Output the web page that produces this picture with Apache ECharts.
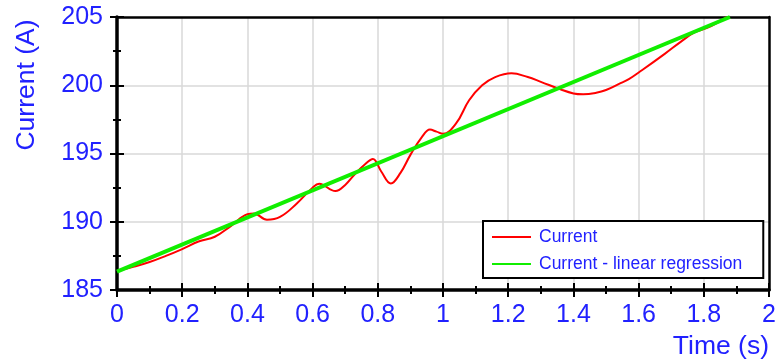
<!DOCTYPE html>
<html>
<head>
<meta charset="utf-8">
<script src="https://cdn.jsdelivr.net/npm/echarts@6/dist/echarts.min.js"></script>
<style>
  html, body { margin: 0; padding: 0; background: #fff; }
  #chart { width: 779px; height: 362px; }
</style>
</head>
<body>
<div id="chart"></div>
<script>
// Measured current over time (s, A)
const timeValues = [0.00, 0.05, 0.10, 0.15, 0.20, 0.25, 0.30, 0.35, 0.40, 0.42, 0.46, 0.50, 0.55, 0.60, 0.62, 0.67, 0.70, 0.73, 0.76, 0.785, 0.81, 0.84, 0.87, 0.90, 0.935, 0.96, 0.98, 1.00, 1.04, 1.08, 1.12, 1.16, 1.21, 1.26, 1.30, 1.36, 1.40, 1.43, 1.47, 1.50, 1.54, 1.57, 1.61, 1.68, 1.73, 1.77, 1.81, 1.85, 1.87];
const currentValues = [186.4, 186.7, 187.05, 187.5, 188.0, 188.55, 188.9, 189.7, 190.55, 190.6, 190.15, 190.35, 191.3, 192.5, 192.78, 192.25, 192.7, 193.5, 194.2, 194.6, 193.7, 192.8, 193.6, 194.9, 196.2, 196.75, 196.6, 196.45, 197.2, 198.9, 200.0, 200.6, 200.88, 200.6, 200.25, 199.7, 199.4, 199.34, 199.45, 199.65, 200.1, 200.45, 201.1, 202.3, 203.2, 203.85, 204.2, 204.7, 205.0];

// Linear regression end points
const regressionTimes = [0, 1.88];
const regressionValues = [186.35, 205.0];

const seriesNames = ['Current', 'Current - linear regression'];
const xAxisTitle = 'Time (s)';
const yAxisTitle = 'Current (A)';

const BLUE = '#2121ff';
const FONT = '"Liberation Sans", Arial, sans-serif';

const currentData = timeValues.map((t, i) => [t, currentValues[i]]);
const regressionData = regressionTimes.map((t, i) => [t, regressionValues[i]]);

const X_RANGE = { type: 'value', min: 0, max: 2, interval: 0.2 };
const Y_RANGE = { type: 'value', min: 185, max: 205, interval: 5 };

// Two axes per direction share the scale: one carries outward ticks and labels,
// the other inward ticks, so ticks cross the axis line.
function tickedAxis(range, position, inside, labelMargin, formatter) {
  return Object.assign({}, range, {
    position: position,
    axisLine: { show: !inside, onZero: false, lineStyle: { color: '#000', width: 3.5 } },
    axisTick: { show: true, inside: inside, length: 7, lineStyle: { color: '#000', width: 2 } },
    minorTick: { show: true, splitNumber: 2, length: 4, lineStyle: { color: '#000', width: 2 } },
    axisLabel: {
      show: !inside, margin: labelMargin, color: BLUE, fontSize: 25, fontFamily: FONT,
      formatter: formatter
    },
    splitLine: { show: !inside, showMinLine: false, showMaxLine: false, lineStyle: { color: '#d9d9d9', width: 1.5 } },
    minorSplitLine: { show: false }
  });
}
// Plain frame line on the opposite side
function frameAxis(range, position) {
  return Object.assign({}, range, {
    position: position,
    axisLine: { show: true, onZero: false, lineStyle: { color: '#000', width: 2.5 } },
    axisTick: { show: false }, minorTick: { show: false },
    axisLabel: { show: false }, splitLine: { show: false }
  });
}

const chart = echarts.init(document.getElementById('chart'), null, { renderer: 'canvas' });
chart.setOption({
  animation: false,
  backgroundColor: '#fff',
  grid: { left: 117, top: 17, right: 7, bottom: 72 },
  xAxis: [
    tickedAxis(X_RANGE, 'bottom', false, 13, v => String(Math.round(v * 10) / 10)),
    tickedAxis(X_RANGE, 'bottom', true, 13),
    frameAxis(X_RANGE, 'top')
  ],
  yAxis: [
    tickedAxis(Y_RANGE, 'left', false, 14),
    tickedAxis(Y_RANGE, 'left', true, 14),
    frameAxis(Y_RANGE, 'right')
  ],
  legend: {
    left: 483, top: 221, orient: 'vertical',
    padding: [7, 21, 5, 8],
    itemWidth: 39, itemHeight: 20, itemGap: 9,
    backgroundColor: '#fff', borderColor: '#000', borderWidth: 2, borderRadius: 0,
    itemStyle: { opacity: 0 },
    textStyle: { color: BLUE, fontSize: 17.5, fontFamily: FONT, padding: [0, 0, 0, 3] },
    data: seriesNames
  },
  graphic: [
    {
      type: 'text', x: 27, y: 85, rotation: Math.PI / 2,
      style: { text: yAxisTitle, fill: BLUE, font: '26.5px ' + FONT, align: 'center', verticalAlign: 'middle' }
    },
    {
      type: 'text', x: 769, y: 347,
      style: { text: xAxisTitle, fill: BLUE, font: '26.5px ' + FONT, align: 'right', verticalAlign: 'middle' }
    }
  ],
  series: [
    {
      name: seriesNames[0], type: 'line', data: currentData, smooth: 0.4,
      symbol: 'none', xAxisIndex: 0, yAxisIndex: 0,
      lineStyle: { color: '#ff0000', width: 2 }, itemStyle: { color: '#ff0000' }
    },
    {
      name: seriesNames[1], type: 'line', data: regressionData,
      symbol: 'none', xAxisIndex: 0, yAxisIndex: 0,
      lineStyle: { color: '#11ee00', width: 4 }, itemStyle: { color: '#11ee00' }
    }
  ]
});
</script>
</body>
</html>
